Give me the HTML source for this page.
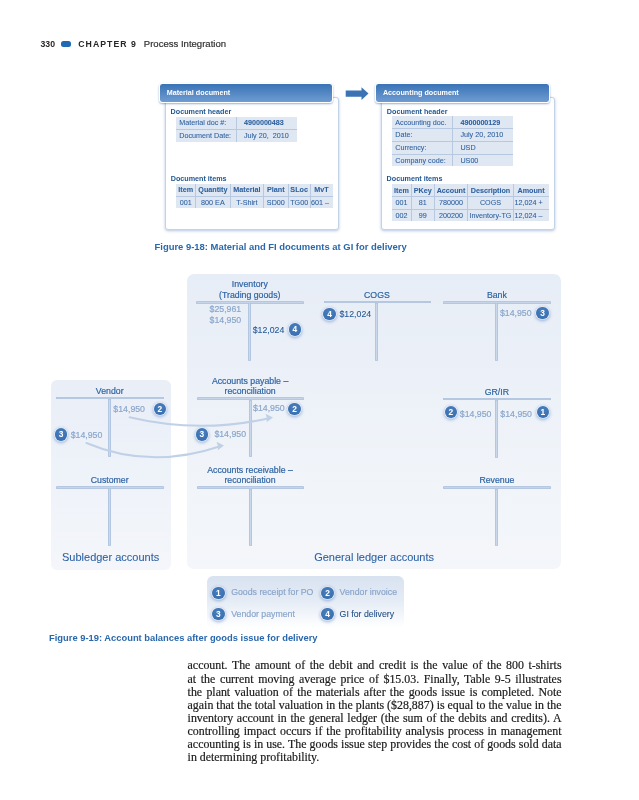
<!DOCTYPE html>
<html><head><meta charset="utf-8"><style>
html,body{margin:0;padding:0;background:#fff;}
body{width:639px;height:800px;position:relative;overflow:hidden;will-change:transform;font-family:"Liberation Sans", sans-serif;}
.t{position:absolute;white-space:nowrap;-webkit-text-stroke:0.18px currentColor;}
.t.b{-webkit-text-stroke:0;}
.r{position:absolute;}
</style></head><body>
<div class="t b" style="left:40.50px;top:39.64px;font-size:8.7px;line-height:8.7px;color:#262626;font-weight:bold;">330</div>
<div class="r" style="left:60.70px;top:40.70px;width:10.00px;height:6.50px;background:#2069b3;border-radius:2.5px;"></div>
<div class="t b" style="left:78.30px;top:39.64px;font-size:8.7px;line-height:8.7px;color:#262626;font-weight:bold;letter-spacing:1.05px;">CHAPTER 9</div>
<div class="t" style="left:143.80px;top:38.92px;font-size:9.55px;line-height:9.55px;color:#303030;">Process Integration</div>
<div class="r" style="left:165.20px;top:97.00px;width:173.70px;height:132.50px;background:#fff;border:1px solid #c3d3e8;border-radius:3px;box-shadow:0 1px 3px rgba(90,130,190,0.45);box-sizing:border-box;"></div>
<div class="r" style="left:159.20px;top:83.40px;width:174.30px;height:19.40px;background:linear-gradient(#3a73b5,#6e9cd1);border:1px solid #fff;border-radius:3.5px;box-shadow:0 1px 2px rgba(60,100,160,0.5);box-sizing:border-box;"></div>
<div class="t b" style="left:166.70px;top:89.21px;font-size:7.2px;line-height:7.2px;color:#fff;font-weight:bold;">Material document</div>
<div class="t b" style="left:170.60px;top:107.81px;font-size:7.2px;line-height:7.2px;color:#1f5591;font-weight:bold;">Document header</div>
<div class="r" style="left:176.00px;top:116.70px;width:120.50px;height:24.90px;background:#dfe7f2;"></div>
<div class="r" style="left:235.70px;top:116.70px;width:1.00px;height:24.90px;background:#b7c9e0;"></div>
<div class="r" style="left:176.00px;top:128.70px;width:120.50px;height:1.00px;background:#b7c9e0;"></div>
<div class="t" style="left:179.20px;top:119.21px;font-size:7.2px;line-height:7.2px;color:#2d61a1;-webkit-text-stroke:0.07px currentColor;">Material doc #:</div>
<div class="t b" style="left:243.90px;top:119.21px;font-size:7.2px;line-height:7.2px;color:#2d61a1;font-weight:bold;-webkit-text-stroke:0.07px currentColor;">4900000483</div>
<div class="t" style="left:179.20px;top:131.71px;font-size:7.2px;line-height:7.2px;color:#2d61a1;-webkit-text-stroke:0.07px currentColor;">Document Date:</div>
<div class="t" style="left:243.90px;top:131.71px;font-size:7.2px;line-height:7.2px;color:#2d61a1;-webkit-text-stroke:0.07px currentColor;">July 20,&nbsp; 2010</div>
<div class="t b" style="left:170.70px;top:174.91px;font-size:7.2px;line-height:7.2px;color:#1f5591;font-weight:bold;">Document items</div>
<div class="r" style="left:176.00px;top:183.80px;width:156.80px;height:24.70px;background:#dfe7f2;"></div>
<div class="r" style="left:194.90px;top:183.80px;width:1.00px;height:24.70px;background:#b7c9e0;"></div>
<div class="r" style="left:229.90px;top:183.80px;width:1.00px;height:24.70px;background:#b7c9e0;"></div>
<div class="r" style="left:262.90px;top:183.80px;width:1.00px;height:24.70px;background:#b7c9e0;"></div>
<div class="r" style="left:287.80px;top:183.80px;width:1.00px;height:24.70px;background:#b7c9e0;"></div>
<div class="r" style="left:309.50px;top:183.80px;width:1.00px;height:24.70px;background:#b7c9e0;"></div>
<div class="r" style="left:176.00px;top:195.70px;width:156.80px;height:1.00px;background:#b7c9e0;"></div>
<div class="t b" style="left:185.70px;top:186.31px;font-size:7.2px;line-height:7.2px;color:#2d61a1;font-weight:bold;transform:translateX(-50%);-webkit-text-stroke:0.07px currentColor;">Item</div>
<div class="t b" style="left:212.90px;top:186.31px;font-size:7.2px;line-height:7.2px;color:#2d61a1;font-weight:bold;transform:translateX(-50%);-webkit-text-stroke:0.07px currentColor;">Quantity</div>
<div class="t b" style="left:246.90px;top:186.31px;font-size:7.2px;line-height:7.2px;color:#2d61a1;font-weight:bold;transform:translateX(-50%);-webkit-text-stroke:0.07px currentColor;">Material</div>
<div class="t b" style="left:275.85px;top:186.31px;font-size:7.2px;line-height:7.2px;color:#2d61a1;font-weight:bold;transform:translateX(-50%);-webkit-text-stroke:0.07px currentColor;">Plant</div>
<div class="t b" style="left:299.15px;top:186.31px;font-size:7.2px;line-height:7.2px;color:#2d61a1;font-weight:bold;transform:translateX(-50%);-webkit-text-stroke:0.07px currentColor;">SLoc</div>
<div class="t b" style="left:321.40px;top:186.31px;font-size:7.2px;line-height:7.2px;color:#2d61a1;font-weight:bold;transform:translateX(-50%);-webkit-text-stroke:0.07px currentColor;">MvT</div>
<div class="t" style="left:185.70px;top:198.71px;font-size:7.2px;line-height:7.2px;color:#2d61a1;transform:translateX(-50%);-webkit-text-stroke:0.07px currentColor;">001</div>
<div class="t" style="left:212.90px;top:198.71px;font-size:7.2px;line-height:7.2px;color:#2d61a1;transform:translateX(-50%);-webkit-text-stroke:0.07px currentColor;">800 EA</div>
<div class="t" style="left:246.90px;top:198.71px;font-size:7.2px;line-height:7.2px;color:#2d61a1;transform:translateX(-50%);-webkit-text-stroke:0.07px currentColor;">T-Shirt</div>
<div class="t" style="left:275.85px;top:198.71px;font-size:7.2px;line-height:7.2px;color:#2d61a1;transform:translateX(-50%);-webkit-text-stroke:0.07px currentColor;">SD00</div>
<div class="t" style="left:299.15px;top:198.71px;font-size:7.2px;line-height:7.2px;color:#2d61a1;transform:translateX(-50%);-webkit-text-stroke:0.07px currentColor;">TG00</div>
<div class="t" style="left:321.40px;top:198.71px;font-size:7.2px;line-height:7.2px;color:#2d61a1;transform:translateX(-50%);-webkit-text-stroke:0.07px currentColor;"></div>
<div class="t" style="left:311.10px;top:198.71px;font-size:7.2px;line-height:7.2px;color:#2d61a1;-webkit-text-stroke:0.07px currentColor;">601 &ndash;</div>
<svg class="r" style="left:344px;top:85px;width:26px;height:17px" viewBox="0 0 26 17"><path d="M1.7 5.6 H17.5 V2.2 L24.5 8.6 L17.5 15 V11.7 H1.7 Z" fill="#3b73b4"/></svg>
<div class="r" style="left:381.20px;top:97.00px;width:173.90px;height:132.50px;background:#fff;border:1px solid #c3d3e8;border-radius:3px;box-shadow:0 1px 3px rgba(90,130,190,0.45);box-sizing:border-box;"></div>
<div class="r" style="left:375.40px;top:83.40px;width:174.20px;height:19.40px;background:linear-gradient(#3a73b5,#6e9cd1);border:1px solid #fff;border-radius:3.5px;box-shadow:0 1px 2px rgba(60,100,160,0.5);box-sizing:border-box;"></div>
<div class="t b" style="left:382.90px;top:89.21px;font-size:7.2px;line-height:7.2px;color:#fff;font-weight:bold;">Accounting document</div>
<div class="t b" style="left:386.80px;top:107.81px;font-size:7.2px;line-height:7.2px;color:#1f5591;font-weight:bold;">Document header</div>
<div class="r" style="left:391.80px;top:116.40px;width:121.00px;height:50.10px;background:#dfe7f2;"></div>
<div class="r" style="left:452.10px;top:116.40px;width:1.00px;height:50.10px;background:#b7c9e0;"></div>
<div class="r" style="left:391.80px;top:128.30px;width:121.00px;height:1.00px;background:#b7c9e0;"></div>
<div class="r" style="left:391.80px;top:140.80px;width:121.00px;height:1.00px;background:#b7c9e0;"></div>
<div class="r" style="left:391.80px;top:153.50px;width:121.00px;height:1.00px;background:#b7c9e0;"></div>
<div class="t" style="left:395.30px;top:118.91px;font-size:7.2px;line-height:7.2px;color:#2d61a1;-webkit-text-stroke:0.07px currentColor;">Accounting doc.</div>
<div class="t b" style="left:460.40px;top:118.91px;font-size:7.2px;line-height:7.2px;color:#2d61a1;font-weight:bold;-webkit-text-stroke:0.07px currentColor;">4900000129</div>
<div class="t" style="left:395.30px;top:131.31px;font-size:7.2px;line-height:7.2px;color:#2d61a1;-webkit-text-stroke:0.07px currentColor;">Date:</div>
<div class="t" style="left:460.40px;top:131.31px;font-size:7.2px;line-height:7.2px;color:#2d61a1;-webkit-text-stroke:0.07px currentColor;">July 20, 2010</div>
<div class="t" style="left:395.30px;top:143.81px;font-size:7.2px;line-height:7.2px;color:#2d61a1;-webkit-text-stroke:0.07px currentColor;">Currency:</div>
<div class="t" style="left:460.40px;top:143.81px;font-size:7.2px;line-height:7.2px;color:#2d61a1;-webkit-text-stroke:0.07px currentColor;">USD</div>
<div class="t" style="left:395.30px;top:156.51px;font-size:7.2px;line-height:7.2px;color:#2d61a1;-webkit-text-stroke:0.07px currentColor;">Company code:</div>
<div class="t" style="left:460.40px;top:156.51px;font-size:7.2px;line-height:7.2px;color:#2d61a1;-webkit-text-stroke:0.07px currentColor;">US00</div>
<div class="t b" style="left:386.60px;top:175.11px;font-size:7.2px;line-height:7.2px;color:#1f5591;font-weight:bold;">Document items</div>
<div class="r" style="left:391.80px;top:184.40px;width:156.90px;height:37.10px;background:#dfe7f2;"></div>
<div class="r" style="left:410.70px;top:184.40px;width:1.00px;height:37.10px;background:#b7c9e0;"></div>
<div class="r" style="left:433.90px;top:184.40px;width:1.00px;height:37.10px;background:#b7c9e0;"></div>
<div class="r" style="left:467.10px;top:184.40px;width:1.00px;height:37.10px;background:#b7c9e0;"></div>
<div class="r" style="left:512.90px;top:184.40px;width:1.00px;height:37.10px;background:#b7c9e0;"></div>
<div class="r" style="left:391.80px;top:195.80px;width:156.90px;height:1.00px;background:#b7c9e0;"></div>
<div class="r" style="left:391.80px;top:208.50px;width:156.90px;height:1.00px;background:#b7c9e0;"></div>
<div class="t b" style="left:401.50px;top:186.91px;font-size:7.2px;line-height:7.2px;color:#2d61a1;font-weight:bold;transform:translateX(-50%);-webkit-text-stroke:0.07px currentColor;">Item</div>
<div class="t b" style="left:422.80px;top:186.91px;font-size:7.2px;line-height:7.2px;color:#2d61a1;font-weight:bold;transform:translateX(-50%);-webkit-text-stroke:0.07px currentColor;">PKey</div>
<div class="t b" style="left:451.00px;top:186.91px;font-size:7.2px;line-height:7.2px;color:#2d61a1;font-weight:bold;transform:translateX(-50%);-webkit-text-stroke:0.07px currentColor;">Account</div>
<div class="t b" style="left:490.50px;top:186.91px;font-size:7.2px;line-height:7.2px;color:#2d61a1;font-weight:bold;transform:translateX(-50%);-webkit-text-stroke:0.07px currentColor;">Description</div>
<div class="t b" style="left:531.05px;top:186.91px;font-size:7.2px;line-height:7.2px;color:#2d61a1;font-weight:bold;transform:translateX(-50%);-webkit-text-stroke:0.07px currentColor;">Amount</div>
<div class="t" style="left:401.50px;top:198.81px;font-size:7.2px;line-height:7.2px;color:#2d61a1;transform:translateX(-50%);-webkit-text-stroke:0.07px currentColor;">001</div>
<div class="t" style="left:422.80px;top:198.81px;font-size:7.2px;line-height:7.2px;color:#2d61a1;transform:translateX(-50%);-webkit-text-stroke:0.07px currentColor;">81</div>
<div class="t" style="left:451.00px;top:198.81px;font-size:7.2px;line-height:7.2px;color:#2d61a1;transform:translateX(-50%);-webkit-text-stroke:0.07px currentColor;">780000</div>
<div class="t" style="left:490.50px;top:198.81px;font-size:7.2px;line-height:7.2px;color:#2d61a1;transform:translateX(-50%);-webkit-text-stroke:0.07px currentColor;">COGS</div>
<div class="t" style="left:531.05px;top:198.81px;font-size:7.2px;line-height:7.2px;color:#2d61a1;transform:translateX(-50%);-webkit-text-stroke:0.07px currentColor;"></div>
<div class="t" style="left:401.50px;top:211.51px;font-size:7.2px;line-height:7.2px;color:#2d61a1;transform:translateX(-50%);-webkit-text-stroke:0.07px currentColor;">002</div>
<div class="t" style="left:422.80px;top:211.51px;font-size:7.2px;line-height:7.2px;color:#2d61a1;transform:translateX(-50%);-webkit-text-stroke:0.07px currentColor;">99</div>
<div class="t" style="left:451.00px;top:211.51px;font-size:7.2px;line-height:7.2px;color:#2d61a1;transform:translateX(-50%);-webkit-text-stroke:0.07px currentColor;">200200</div>
<div class="t" style="left:490.50px;top:211.51px;font-size:7.2px;line-height:7.2px;color:#2d61a1;transform:translateX(-50%);-webkit-text-stroke:0.07px currentColor;">Inventory-TG</div>
<div class="t" style="left:531.05px;top:211.51px;font-size:7.2px;line-height:7.2px;color:#2d61a1;transform:translateX(-50%);-webkit-text-stroke:0.07px currentColor;"></div>
<div class="t" style="left:514.60px;top:198.81px;font-size:7.2px;line-height:7.2px;color:#2d61a1;-webkit-text-stroke:0.07px currentColor;">12,024 +</div>
<div class="t" style="left:514.60px;top:211.51px;font-size:7.2px;line-height:7.2px;color:#2d61a1;-webkit-text-stroke:0.07px currentColor;">12,024 &ndash;</div>
<div class="t b" style="left:154.50px;top:241.70px;font-size:9.45px;line-height:9.45px;color:#2968ac;font-weight:bold;">Figure 9-18: Material and FI documents at GI for delivery</div>
<div class="r" style="left:50.50px;top:380.00px;width:120.00px;height:189.50px;background:linear-gradient(#e9eef7 0%,#eef2f9 45%,#f4f6fa 100%);border-radius:6px;"></div>
<div class="r" style="left:187.30px;top:274.20px;width:373.70px;height:295.10px;background:linear-gradient(#e7edf6 0%,#ebf0f8 30%,#f0f4f9 65%,#f4f6fa 100%);border-radius:7px;"></div>
<div class="t" style="left:249.80px;top:279.99px;font-size:8.75px;line-height:8.75px;color:#2d63a4;transform:translateX(-50%);">Inventory</div>
<div class="t" style="left:249.80px;top:290.99px;font-size:8.75px;line-height:8.75px;color:#2d63a4;transform:translateX(-50%);">(Trading goods)</div>
<div class="r" style="left:196.40px;top:301.00px;width:107.40px;height:2.60px;background:#c6d4e9;border-radius:2px;box-shadow:inset 0 0 0 0.6px #a6bbd9;"></div>
<div class="r" style="left:248.30px;top:303.40px;width:3.00px;height:57.60px;background:linear-gradient(90deg,#b3c6e0,#cad8ec 50%,#b3c6e0);border-radius:0 0 1.5px 1.5px;box-shadow:inset 0 0 0 0.4px #aabfdc;"></div>
<div class="t" style="left:376.90px;top:290.89px;font-size:8.75px;line-height:8.75px;color:#2d63a4;transform:translateX(-50%);">COGS</div>
<div class="r" style="left:323.80px;top:300.90px;width:106.80px;height:2.60px;background:#c6d4e9;border-radius:2px;box-shadow:inset 0 0 0 0.6px #a6bbd9;"></div>
<div class="r" style="left:375.40px;top:303.30px;width:3.00px;height:57.70px;background:linear-gradient(90deg,#b3c6e0,#cad8ec 50%,#b3c6e0);border-radius:0 0 1.5px 1.5px;box-shadow:inset 0 0 0 0.4px #aabfdc;"></div>
<div class="t" style="left:496.90px;top:290.99px;font-size:8.75px;line-height:8.75px;color:#2d63a4;transform:translateX(-50%);">Bank</div>
<div class="r" style="left:443.30px;top:301.00px;width:107.30px;height:2.60px;background:#c6d4e9;border-radius:2px;box-shadow:inset 0 0 0 0.6px #a6bbd9;"></div>
<div class="r" style="left:495.40px;top:303.40px;width:3.00px;height:57.60px;background:linear-gradient(90deg,#b3c6e0,#cad8ec 50%,#b3c6e0);border-radius:0 0 1.5px 1.5px;box-shadow:inset 0 0 0 0.4px #aabfdc;"></div>
<div class="t" style="left:109.70px;top:386.69px;font-size:8.75px;line-height:8.75px;color:#2d63a4;transform:translateX(-50%);">Vendor</div>
<div class="r" style="left:56.20px;top:396.70px;width:107.60px;height:2.60px;background:#c6d4e9;border-radius:2px;box-shadow:inset 0 0 0 0.6px #a6bbd9;"></div>
<div class="r" style="left:108.20px;top:399.10px;width:3.00px;height:57.90px;background:linear-gradient(90deg,#b3c6e0,#cad8ec 50%,#b3c6e0);border-radius:0 0 1.5px 1.5px;box-shadow:inset 0 0 0 0.4px #aabfdc;"></div>
<div class="t" style="left:250.10px;top:376.79px;font-size:8.75px;line-height:8.75px;color:#2d63a4;transform:translateX(-50%);">Accounts payable &ndash;</div>
<div class="t" style="left:250.10px;top:387.09px;font-size:8.75px;line-height:8.75px;color:#2d63a4;transform:translateX(-50%);">reconciliation</div>
<div class="r" style="left:197.00px;top:397.10px;width:106.70px;height:2.60px;background:#c6d4e9;border-radius:2px;box-shadow:inset 0 0 0 0.6px #a6bbd9;"></div>
<div class="r" style="left:248.60px;top:399.50px;width:3.00px;height:57.50px;background:linear-gradient(90deg,#b3c6e0,#cad8ec 50%,#b3c6e0);border-radius:0 0 1.5px 1.5px;box-shadow:inset 0 0 0 0.4px #aabfdc;"></div>
<div class="t" style="left:496.90px;top:387.89px;font-size:8.75px;line-height:8.75px;color:#2d63a4;transform:translateX(-50%);">GR/IR</div>
<div class="r" style="left:443.10px;top:397.90px;width:107.90px;height:2.60px;background:#c6d4e9;border-radius:2px;box-shadow:inset 0 0 0 0.6px #a6bbd9;"></div>
<div class="r" style="left:495.40px;top:400.30px;width:3.00px;height:57.70px;background:linear-gradient(90deg,#b3c6e0,#cad8ec 50%,#b3c6e0);border-radius:0 0 1.5px 1.5px;box-shadow:inset 0 0 0 0.4px #aabfdc;"></div>
<div class="t" style="left:109.70px;top:475.99px;font-size:8.75px;line-height:8.75px;color:#2d63a4;transform:translateX(-50%);">Customer</div>
<div class="r" style="left:56.20px;top:486.00px;width:107.60px;height:2.60px;background:#c6d4e9;border-radius:2px;box-shadow:inset 0 0 0 0.6px #a6bbd9;"></div>
<div class="r" style="left:108.20px;top:488.40px;width:3.00px;height:57.60px;background:linear-gradient(90deg,#b3c6e0,#cad8ec 50%,#b3c6e0);border-radius:0 0 1.5px 1.5px;box-shadow:inset 0 0 0 0.4px #aabfdc;"></div>
<div class="t" style="left:250.00px;top:466.29px;font-size:8.75px;line-height:8.75px;color:#2d63a4;transform:translateX(-50%);">Accounts receivable &ndash;</div>
<div class="t" style="left:250.00px;top:476.09px;font-size:8.75px;line-height:8.75px;color:#2d63a4;transform:translateX(-50%);">reconciliation</div>
<div class="r" style="left:196.50px;top:486.10px;width:107.00px;height:2.60px;background:#c6d4e9;border-radius:2px;box-shadow:inset 0 0 0 0.6px #a6bbd9;"></div>
<div class="r" style="left:248.50px;top:488.50px;width:3.00px;height:57.50px;background:linear-gradient(90deg,#b3c6e0,#cad8ec 50%,#b3c6e0);border-radius:0 0 1.5px 1.5px;box-shadow:inset 0 0 0 0.4px #aabfdc;"></div>
<div class="t" style="left:496.90px;top:476.09px;font-size:8.75px;line-height:8.75px;color:#2d63a4;transform:translateX(-50%);">Revenue</div>
<div class="r" style="left:443.30px;top:486.10px;width:107.30px;height:2.60px;background:#c6d4e9;border-radius:2px;box-shadow:inset 0 0 0 0.6px #a6bbd9;"></div>
<div class="r" style="left:495.40px;top:488.50px;width:3.00px;height:57.70px;background:linear-gradient(90deg,#b3c6e0,#cad8ec 50%,#b3c6e0);border-radius:0 0 1.5px 1.5px;box-shadow:inset 0 0 0 0.4px #aabfdc;"></div>
<div class="t" style="left:209.60px;top:305.39px;font-size:8.75px;line-height:8.75px;color:#8aa6cb;">$25,961</div>
<div class="t" style="left:209.60px;top:316.39px;font-size:8.75px;line-height:8.75px;color:#8aa6cb;">$14,950</div>
<div class="t" style="left:252.70px;top:325.79px;font-size:8.75px;line-height:8.75px;color:#275a98;-webkit-text-stroke:0.1px currentColor;">$12,024</div>
<div class="r" style="left:288.50px;top:323.20px;width:12.60px;height:12.60px;background:radial-gradient(circle at 50% 35%,#4a7fbd,#346bad);border-radius:50%;box-shadow:0 0 0 0.6px rgba(255,255,255,0.9),0 1px 3px 1.2px rgba(70,120,190,0.45);"></div>
<div class="t b" style="left:294.80px;top:325.44px;font-size:8.4px;line-height:8.4px;color:#fff;font-weight:bold;transform:translateX(-50%);">4</div>
<div class="r" style="left:323.40px;top:307.90px;width:12.60px;height:12.60px;background:radial-gradient(circle at 50% 35%,#4a7fbd,#346bad);border-radius:50%;box-shadow:0 0 0 0.6px rgba(255,255,255,0.9),0 1px 3px 1.2px rgba(70,120,190,0.45);"></div>
<div class="t b" style="left:329.70px;top:310.14px;font-size:8.4px;line-height:8.4px;color:#fff;font-weight:bold;transform:translateX(-50%);">4</div>
<div class="t" style="left:339.50px;top:309.59px;font-size:8.75px;line-height:8.75px;color:#275a98;-webkit-text-stroke:0.1px currentColor;">$12,024</div>
<div class="t" style="left:531.60px;top:309.39px;font-size:8.75px;line-height:8.75px;color:#8aa6cb;transform:translateX(-100%);">$14,950</div>
<div class="r" style="left:536.30px;top:306.70px;width:12.60px;height:12.60px;background:radial-gradient(circle at 50% 35%,#4a7fbd,#346bad);border-radius:50%;box-shadow:0 0 0 0.6px rgba(255,255,255,0.9),0 1px 3px 1.2px rgba(70,120,190,0.45);"></div>
<div class="t b" style="left:542.60px;top:308.94px;font-size:8.4px;line-height:8.4px;color:#fff;font-weight:bold;transform:translateX(-50%);">3</div>
<div class="t" style="left:145.00px;top:404.59px;font-size:8.75px;line-height:8.75px;color:#8aa6cb;transform:translateX(-100%);">$14,950</div>
<div class="r" style="left:153.50px;top:402.50px;width:12.60px;height:12.60px;background:radial-gradient(circle at 50% 35%,#4a7fbd,#346bad);border-radius:50%;box-shadow:0 0 0 0.6px rgba(255,255,255,0.9),0 1px 3px 1.2px rgba(70,120,190,0.45);"></div>
<div class="t b" style="left:159.80px;top:404.74px;font-size:8.4px;line-height:8.4px;color:#fff;font-weight:bold;transform:translateX(-50%);">2</div>
<div class="r" style="left:54.70px;top:428.20px;width:12.60px;height:12.60px;background:radial-gradient(circle at 50% 35%,#4a7fbd,#346bad);border-radius:50%;box-shadow:0 0 0 0.6px rgba(255,255,255,0.9),0 1px 3px 1.2px rgba(70,120,190,0.45);"></div>
<div class="t b" style="left:61.00px;top:430.44px;font-size:8.4px;line-height:8.4px;color:#fff;font-weight:bold;transform:translateX(-50%);">3</div>
<div class="t" style="left:70.70px;top:430.79px;font-size:8.75px;line-height:8.75px;color:#8aa6cb;">$14,950</div>
<div class="t" style="left:284.70px;top:403.99px;font-size:8.75px;line-height:8.75px;color:#8aa6cb;transform:translateX(-100%);">$14,950</div>
<div class="r" style="left:288.20px;top:402.50px;width:12.60px;height:12.60px;background:radial-gradient(circle at 50% 35%,#4a7fbd,#346bad);border-radius:50%;box-shadow:0 0 0 0.6px rgba(255,255,255,0.9),0 1px 3px 1.2px rgba(70,120,190,0.45);"></div>
<div class="t b" style="left:294.50px;top:404.74px;font-size:8.4px;line-height:8.4px;color:#fff;font-weight:bold;transform:translateX(-50%);">2</div>
<div class="r" style="left:195.60px;top:428.10px;width:12.60px;height:12.60px;background:radial-gradient(circle at 50% 35%,#4a7fbd,#346bad);border-radius:50%;box-shadow:0 0 0 0.6px rgba(255,255,255,0.9),0 1px 3px 1.2px rgba(70,120,190,0.45);"></div>
<div class="t b" style="left:201.90px;top:430.34px;font-size:8.4px;line-height:8.4px;color:#fff;font-weight:bold;transform:translateX(-50%);">3</div>
<div class="t" style="left:214.40px;top:430.29px;font-size:8.75px;line-height:8.75px;color:#8aa6cb;">$14,950</div>
<div class="r" style="left:444.60px;top:405.80px;width:12.60px;height:12.60px;background:radial-gradient(circle at 50% 35%,#4a7fbd,#346bad);border-radius:50%;box-shadow:0 0 0 0.6px rgba(255,255,255,0.9),0 1px 3px 1.2px rgba(70,120,190,0.45);"></div>
<div class="t b" style="left:450.90px;top:408.04px;font-size:8.4px;line-height:8.4px;color:#fff;font-weight:bold;transform:translateX(-50%);">2</div>
<div class="t" style="left:459.80px;top:409.59px;font-size:8.75px;line-height:8.75px;color:#8aa6cb;">$14,950</div>
<div class="t" style="left:532.00px;top:409.59px;font-size:8.75px;line-height:8.75px;color:#8aa6cb;transform:translateX(-100%);">$14,950</div>
<div class="r" style="left:536.50px;top:405.80px;width:12.60px;height:12.60px;background:radial-gradient(circle at 50% 35%,#4a7fbd,#346bad);border-radius:50%;box-shadow:0 0 0 0.6px rgba(255,255,255,0.9),0 1px 3px 1.2px rgba(70,120,190,0.45);"></div>
<div class="t b" style="left:542.80px;top:408.04px;font-size:8.4px;line-height:8.4px;color:#fff;font-weight:bold;transform:translateX(-50%);">1</div>
<svg class="r" style="left:0;top:0;width:639px;height:800px" viewBox="0 0 639 800">
<g fill="none" stroke="#c0d1e7" stroke-width="2" stroke-linecap="round">
<path d="M129.6 417.3 Q200 434 270 418"/>
<path d="M86.4 443 Q150 470 221 446"/>
</g>
<g fill="#c0d1e7">
<path d="M273 417.6 L265.5 413.8 L267 418.2 L266.5 422.3 Z"/>
<path d="M224 445.4 L216.5 441.8 L218 446.2 L217.8 450.3 Z"/>
</g>
</svg>
<div class="t" style="left:62.00px;top:551.89px;font-size:11px;line-height:11px;color:#2d63a4;-webkit-text-stroke:0.08px currentColor;">Subledger accounts</div>
<div class="t" style="left:314.20px;top:552.09px;font-size:11px;line-height:11px;color:#2d63a4;-webkit-text-stroke:0.08px currentColor;">General ledger accounts</div>
<div class="r" style="left:207.00px;top:576.20px;width:197.00px;height:51.80px;background:linear-gradient(#d8e2f0 0%,#e4ebf5 45%,rgba(255,255,255,0) 100%);border-radius:6px;"></div>
<div class="r" style="left:212.10px;top:586.70px;width:12.60px;height:12.60px;background:radial-gradient(circle at 50% 35%,#4a7fbd,#346bad);border-radius:50%;box-shadow:0 0 0 0.6px rgba(255,255,255,0.9),0 1px 3px 1.2px rgba(70,120,190,0.45);"></div>
<div class="t b" style="left:218.40px;top:588.94px;font-size:8.4px;line-height:8.4px;color:#fff;font-weight:bold;transform:translateX(-50%);">1</div>
<div class="t" style="left:231.20px;top:588.49px;font-size:8.75px;line-height:8.75px;color:#8aa6cb;">Goods receipt for PO</div>
<div class="r" style="left:321.20px;top:586.70px;width:12.60px;height:12.60px;background:radial-gradient(circle at 50% 35%,#4a7fbd,#346bad);border-radius:50%;box-shadow:0 0 0 0.6px rgba(255,255,255,0.9),0 1px 3px 1.2px rgba(70,120,190,0.45);"></div>
<div class="t b" style="left:327.50px;top:588.94px;font-size:8.4px;line-height:8.4px;color:#fff;font-weight:bold;transform:translateX(-50%);">2</div>
<div class="t" style="left:339.60px;top:588.49px;font-size:8.75px;line-height:8.75px;color:#8aa6cb;">Vendor invoice</div>
<div class="r" style="left:212.10px;top:607.80px;width:12.60px;height:12.60px;background:radial-gradient(circle at 50% 35%,#4a7fbd,#346bad);border-radius:50%;box-shadow:0 0 0 0.6px rgba(255,255,255,0.9),0 1px 3px 1.2px rgba(70,120,190,0.45);"></div>
<div class="t b" style="left:218.40px;top:610.04px;font-size:8.4px;line-height:8.4px;color:#fff;font-weight:bold;transform:translateX(-50%);">3</div>
<div class="t" style="left:231.20px;top:609.59px;font-size:8.75px;line-height:8.75px;color:#8aa6cb;">Vendor payment</div>
<div class="r" style="left:321.20px;top:607.80px;width:12.60px;height:12.60px;background:radial-gradient(circle at 50% 35%,#4a7fbd,#346bad);border-radius:50%;box-shadow:0 0 0 0.6px rgba(255,255,255,0.9),0 1px 3px 1.2px rgba(70,120,190,0.45);"></div>
<div class="t b" style="left:327.50px;top:610.04px;font-size:8.4px;line-height:8.4px;color:#fff;font-weight:bold;transform:translateX(-50%);">4</div>
<div class="t" style="left:339.60px;top:609.59px;font-size:8.75px;line-height:8.75px;color:#234f88;-webkit-text-stroke:0.08px currentColor;">GI for delivery</div>
<div class="t b" style="left:49.00px;top:633.87px;font-size:9.37px;line-height:9.37px;color:#2968ac;font-weight:bold;">Figure 9-19: Account balances after goods issue for delivery</div>
<div class="t" style="left:187.60px;top:660.43px;font-size:11.9px;line-height:11.9px;color:#1a1a1a;font-family:'Liberation Serif', serif;word-spacing:1.605px;">account. The amount of the debit and credit is the value of the 800 t-shirts</div>
<div class="t" style="left:187.60px;top:673.56px;font-size:11.9px;line-height:11.9px;color:#1a1a1a;font-family:'Liberation Serif', serif;word-spacing:1.619px;">at the current moving average price of &#36;15.03. Finally, Table 9-5 illustrates</div>
<div class="t" style="left:187.60px;top:686.69px;font-size:11.9px;line-height:11.9px;color:#1a1a1a;font-family:'Liberation Serif', serif;word-spacing:1.304px;">the plant valuation of the materials after the goods issue is completed. Note</div>
<div class="t" style="left:187.60px;top:699.82px;font-size:11.9px;line-height:11.9px;color:#1a1a1a;font-family:'Liberation Serif', serif;word-spacing:0.007px;">again that the total valuation in the plants (&#36;28,887) is equal to the value in the</div>
<div class="t" style="left:187.60px;top:712.95px;font-size:11.9px;line-height:11.9px;color:#1a1a1a;font-family:'Liberation Serif', serif;word-spacing:0.722px;">inventory account in the general ledger (the sum of the debits and credits). A</div>
<div class="t" style="left:187.60px;top:726.08px;font-size:11.9px;line-height:11.9px;color:#1a1a1a;font-family:'Liberation Serif', serif;word-spacing:1.004px;">controlling impact occurs if the profitability analysis process in management</div>
<div class="t" style="left:187.60px;top:739.21px;font-size:11.9px;line-height:11.9px;color:#1a1a1a;font-family:'Liberation Serif', serif;word-spacing:0.138px;">accounting is in use. The goods issue step provides the cost of goods sold data</div>
<div class="t" style="left:187.60px;top:752.34px;font-size:11.9px;line-height:11.9px;color:#1a1a1a;font-family:'Liberation Serif', serif;">in determining profitability.</div>
</body></html>
